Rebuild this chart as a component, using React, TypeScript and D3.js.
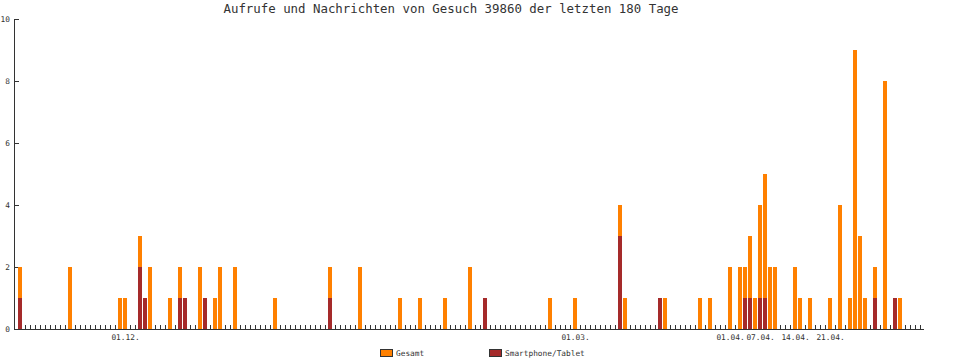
import React from "react";
import * as d3 from "d3";

const TITLE = "Aufrufe und Nachrichten von Gesuch 39860 der letzten 180 Tage";
const DAY_COUNT = 181;
// day index (0 = 10.11.) of days with activity
const activeDays = [0, 10, 20, 21, 24, 25, 26, 30, 32, 33, 36, 37, 39, 40, 43, 51, 62, 68, 76, 80, 85, 90, 93, 106, 111, 120, 121, 128, 129, 136, 138, 142, 144, 145, 146, 147, 148, 149, 150, 151, 155, 156, 158, 162, 164, 166, 167, 168, 169, 171, 173, 175, 176];
const gesamt = [2, 2, 1, 1, 3, 1, 2, 1, 2, 1, 2, 1, 1, 2, 2, 1, 2, 2, 1, 1, 1, 2, 1, 1, 1, 4, 1, 1, 1, 1, 1, 2, 2, 2, 3, 1, 4, 5, 2, 2, 2, 1, 1, 1, 4, 1, 9, 3, 1, 2, 8, 1, 1];
const mobile = [1, 0, 0, 0, 2, 1, 0, 0, 1, 1, 0, 1, 0, 0, 0, 0, 1, 0, 0, 0, 0, 0, 1, 0, 0, 3, 0, 1, 0, 0, 0, 0, 0, 1, 1, 0, 1, 1, 0, 0, 0, 0, 0, 0, 0, 0, 0, 0, 0, 1, 0, 1, 0];
const dateLabels = ["01.12.", "01.03.", "01.04.", "07.04.", "14.04.", "21.04."];
const dateLabelDays = [21, 111, 142, 148, 155, 162];
const yTicks = [0, 2, 4, 6, 8, 10];
const seriesNames = ["Gesamt", "Smartphone/Tablet"];
const seriesColors = ["#ff8000", "#a52a2a"];

const W = 970;
const H = 358;
const FONT = "'DejaVu Sans Mono', monospace";
const INK = "#333333";

export default function App() {
  const days = d3.range(DAY_COUNT);
  const xs = d3.scaleLinear().domain([0, DAY_COUNT]).range([18, 18 + 5 * DAY_COUNT]);
  const y = d3.scaleLinear().domain([0, 10]).range([329, 19]);
  const left = (d: number) => xs(d);
  const center = (d: number) => xs(d) + 2.5;
  const barW = 4;

  return (
    <div style={{ position: "fixed", left: 0, top: 0 }}>
      <svg width={W} height={H} style={{ display: "block", background: "#fff" }}>
        <text x={451} y={13} textAnchor="middle" fontFamily={FONT} fontSize={12.4} fill={INK}>
          {TITLE}
        </text>
        {/* y axis */}
        <line x1={14.5} x2={14.5} y1={y(10)} y2={y(0) + 1} stroke={INK} strokeWidth={1} />
        {yTicks.map((t) => (
          <g key={t}>
            <line x1={14} x2={19} y1={Math.round(y(t)) + 0.5} y2={Math.round(y(t)) + 0.5} stroke={INK} />
            <text x={10} y={y(t) + 3} textAnchor="end" fontFamily={FONT} fontSize={7.8} fill={INK}>
              {t}
            </text>
          </g>
        ))}
        {/* day ticks */}
        {days.map((d) => (
          <line key={d} x1={center(d)} x2={center(d)} y1={y(0) - 4} y2={y(0)} stroke={INK} strokeWidth={1} />
        ))}
        {/* bars */}
        {activeDays.map((d, i) => (
          <g key={d}>
            <rect x={left(d)} width={barW} y={y(gesamt[i])} height={y(0) - y(gesamt[i])} fill={seriesColors[0]} />
            {mobile[i] > 0 && (
              <rect x={left(d)} width={barW} y={y(mobile[i])} height={y(0) - y(mobile[i])} fill={seriesColors[1]} />
            )}
          </g>
        ))}
        {/* x axis */}
        <line x1={14} x2={924} y1={329.5} y2={329.5} stroke={INK} strokeWidth={1} />
        {dateLabelDays.map((d, i) => (
          <text key={i} x={center(d)} y={340} textAnchor="middle" fontFamily={FONT} fontSize={7.8} fill={INK}>
            {dateLabels[i]}
          </text>
        ))}
        {/* legend */}
        {seriesNames.map((n, i) => {
          const lx = i === 0 ? 380 : 489;
          return (
            <g key={n}>
              <rect x={lx + 0.5} y={349.5} width={12} height={7} fill={seriesColors[i]} stroke={INK} strokeWidth={1} />
              <text x={lx + 16} y={356} fontFamily={FONT} fontSize={7.8} fill={INK}>
                {n}
              </text>
            </g>
          );
        })}
      </svg>
    </div>
  );
}
